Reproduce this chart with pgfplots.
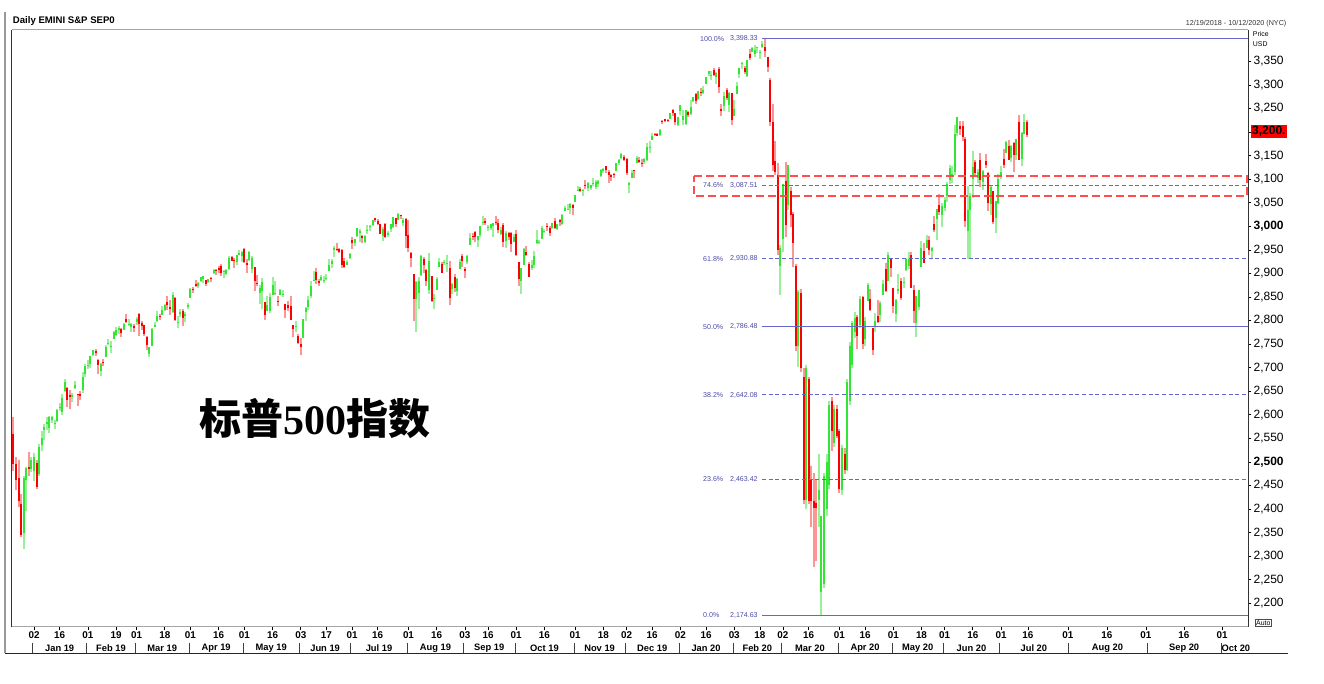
\documentclass[border=0pt]{standalone}
\usepackage{pgfplots}
\pgfplotsset{compat=1.18}
\usepackage{pgfplotstable}
\usepackage{fontspec}
\setmainfont{Liberation Sans}
\newfontfamily\cjk{Noto Sans CJK SC}
\newfontfamily\seriffont{Liberation Serif}

\definecolor{upbody}{HTML}{33E633}
\definecolor{upwick}{HTML}{99F099}
\definecolor{downbody}{HTML}{FF0000}
\definecolor{downwick}{HTML}{FF9494}
\definecolor{fibline}{HTML}{6666CC}
\definecolor{fibtext}{HTML}{4A4AA6}
\definecolor{boxred}{HTML}{FF4D4D}

% daily candles, i = trading day (0 = 02 Jan 2019)
\pgfplotstableread{
i o h l c
-8 2560 2595 2480 2495
-7 2495 2510 2440 2462
-6 2465 2505 2405 2418
-5 2410 2433 2340 2345
-4 2350 2470 2316 2465
-3 2462 2490 2395 2488
-2 2490 2522 2470 2484
-1 2484 2510 2478 2505
0 2480 2520 2460 2510
1 2498 2505 2443 2447
2 2475 2538 2470 2532
3 2535 2566 2524 2550
4 2568 2580 2547 2574
5 2580 2595 2568 2585
6 2573 2597 2562 2596
7 2588 2597 2582 2596
8 2580 2589 2570 2582
9 2586 2613 2585 2610
10 2614 2626 2608 2616
11 2606 2645 2600 2636
12 2651 2675 2648 2670
13 2657 2658 2617 2632
14 2643 2653 2612 2638
15 2638 2647 2627 2642
16 2657 2672 2655 2664
17 2644 2645 2618 2643
18 2644 2650 2631 2640
19 2653 2690 2647 2681
20 2686 2708 2680 2704
21 2703 2716 2697 2706
22 2707 2725 2700 2725
23 2727 2738 2725 2737
24 2735 2739 2724 2731
25 2716 2719 2687 2706
26 2692 2709 2682 2708
27 2712 2719 2703 2709
28 2722 2749 2722 2744
29 2751 2761 2748 2753
30 2744 2757 2731 2745
31 2760 2777 2760 2775
32 2770 2787 2767 2779
33 2780 2789 2771 2784
34 2782 2785 2765 2774
35 2780 2794 2780 2792
36 2804 2813 2794 2796
37 2792 2803 2789 2793
38 2787 2795 2776 2792
39 2788 2793 2775 2784
40 2798 2808 2791 2803
41 2814 2816 2767 2792
42 2795 2799 2781 2789
43 2790 2790 2768 2771
44 2766 2768 2738 2748
45 2730 2744 2722 2743
46 2747 2784 2746 2783
47 2787 2798 2786 2791
48 2799 2821 2798 2810
49 2810 2815 2801 2808
50 2812 2830 2812 2822
51 2822 2835 2821 2833
52 2840 2852 2823 2832
53 2828 2843 2811 2824
54 2818 2860 2817 2855
55 2847 2851 2800 2801
56 2796 2809 2785 2798
57 2813 2825 2807 2818
58 2820 2824 2788 2805
59 2809 2819 2798 2815
60 2828 2838 2825 2834
61 2848 2869 2848 2867
62 2868 2872 2858 2867
63 2877 2886 2872 2873
64 2873 2882 2870 2879
65 2884 2893 2882 2892
66 2888 2895 2880 2895
67 2886 2886 2873 2878
68 2881 2889 2879 2888
69 2891 2893 2881 2888
70 2900 2910 2898 2907
71 2908 2909 2896 2905
72 2912 2916 2901 2907
73 2916 2921 2895 2900
74 2904 2908 2891 2905
75 2898 2910 2896 2908
76 2910 2936 2908 2933
77 2934 2936 2926 2927
78 2928 2933 2912 2926
79 2925 2940 2917 2940
80 2940 2950 2939 2943
81 2937 2948 2925 2945
82 2952 2954 2923 2924
83 2922 2931 2900 2917
84 2929 2948 2927 2945
85 2909 2937 2900 2932
86 2913 2913 2862 2884
87 2880 2897 2874 2879
88 2859 2875 2836 2870
89 2863 2891 2825 2881
90 2840 2840 2801 2811
91 2820 2852 2820 2834
92 2820 2858 2816 2850
93 2855 2892 2855 2876
94 2858 2885 2854 2859
95 2841 2853 2831 2840
96 2855 2868 2854 2864
97 2856 2865 2851 2856
98 2836 2836 2805 2822
99 2832 2841 2821 2826
100 2831 2852 2801 2802
101 2790 2791 2766 2783
102 2786 2799 2776 2789
103 2767 2772 2750 2752
104 2751 2763 2728 2744
105 2763 2804 2762 2803
106 2818 2828 2800 2826
107 2828 2852 2822 2843
108 2852 2885 2848 2873
109 2886 2905 2884 2887
110 2903 2911 2878 2886
111 2883 2888 2874 2880
112 2886 2896 2884 2892
113 2886 2894 2879 2887
114 2889 2898 2886 2890
115 2906 2931 2905 2918
116 2920 2930 2912 2926
117 2949 2958 2935 2954
118 2952 2964 2947 2950
119 2951 2955 2944 2945
120 2949 2951 2912 2917
121 2926 2932 2911 2914
122 2919 2929 2918 2925
123 2933 2943 2930 2942
124 2971 2977 2952 2964
125 2965 2974 2959 2973
126 2979 2996 2978 2996
127 2985 2995 2967 2990
128 2980 2981 2964 2976
129 2966 2981 2964 2980
130 2990 3002 2984 2993
131 2999 3003 2991 3000
132 3003 3014 3001 3014
133 3017 3018 3010 3014
134 3012 3016 3003 3004
135 3006 3006 2984 2984
136 2980 2999 2969 2995
137 3005 3007 2976 2977
138 2981 2990 2977 2985
139 2994 3005 2988 3005
140 2999 3020 2997 3020
141 3017 3018 2999 3004
142 3013 3028 3013 3026
143 3024 3025 3015 3021
144 3007 3018 3000 3013
145 3016 3018 2953 2980
146 2981 3014 2946 2954
147 2944 2945 2914 2932
148 2898 2898 2800 2845
149 2845 2885 2776 2882
150 2859 2892 2825 2884
151 2897 2939 2895 2938
152 2930 2935 2900 2919
153 2907 2909 2873 2883
154 2865 2943 2856 2926
155 2894 2894 2840 2841
156 2846 2857 2825 2848
157 2864 2893 2864 2889
158 2913 2932 2913 2924
159 2920 2924 2900 2901
160 2922 2928 2917 2924
161 2923 2939 2904 2923
162 2912 2927 2834 2847
163 2866 2880 2856 2878
164 2893 2899 2860 2869
165 2862 2891 2853 2888
166 2910 2931 2910 2925
167 2937 2941 2914 2926
168 2909 2914 2891 2906
169 2925 2939 2921 2938
170 2960 2985 2960 2976
171 2980 2985 2972 2979
172 2988 2990 2967 2978
173 2971 2980 2957 2979
174 2981 3001 2977 3001
175 3010 3021 3003 3010
176 3012 3017 3003 3007
177 2997 3003 2991 2998
178 2996 3006 2993 3006
179 3001 3008 2978 3007
180 3010 3022 3003 3007
181 3008 3016 2985 2992
182 2984 2999 2982 2992
183 3002 3007 2957 2967
184 2969 2990 2953 2985
185 2985 2988 2970 2978
186 2986 2988 2945 2962
187 2967 2983 2967 2977
188 2984 2993 2938 2940
189 2925 2925 2874 2888
190 2885 2911 2856 2911
191 2919 2953 2918 2952
192 2945 2959 2936 2939
193 2920 2925 2892 2893
194 2912 2929 2907 2919
195 2918 2948 2911 2938
196 2964 2993 2963 2970
197 2966 2972 2963 2966
198 2974 3000 2974 2996
199 2990 2994 2985 2990
200 3001 3008 2991 2998
201 2997 3001 2980 2986
202 2997 3008 2995 3007
203 3011 3017 2995 2996
204 2994 3005 2992 3005
205 3014 3016 3000 3010
206 3004 3027 3002 3023
207 3032 3044 3032 3039
208 3036 3047 3034 3037
209 3039 3050 3026 3047
210 3046 3047 3023 3038
211 3051 3067 3051 3067
212 3078 3085 3074 3078
213 3080 3084 3072 3075
214 3075 3079 3065 3077
215 3088 3098 3080 3085
216 3082 3094 3075 3093
217 3081 3088 3077 3087
218 3090 3103 3085 3092
219 3084 3098 3079 3094
220 3090 3098 3083 3097
221 3107 3121 3105 3120
222 3118 3124 3113 3122
223 3127 3128 3113 3120
224 3115 3119 3092 3108
225 3108 3111 3097 3104
226 3112 3113 3102 3110
227 3118 3134 3118 3134
228 3135 3142 3131 3141
229 3145 3155 3143 3154
230 3148 3151 3139 3141
231 3143 3145 3110 3114
232 3087 3095 3070 3093
233 3103 3120 3103 3113
234 3119 3120 3102 3117
235 3134 3150 3134 3146
236 3141 3148 3135 3136
237 3135 3143 3125 3133
238 3136 3144 3133 3142
239 3141 3176 3139 3169
240 3166 3182 3156 3169
241 3183 3198 3183 3191
242 3195 3198 3191 3193
243 3196 3198 3191 3191
244 3193 3206 3192 3205
245 3223 3226 3217 3221
246 3227 3228 3222 3224
247 3225 3227 3222 3223
248 3227 3240 3227 3240
249 3247 3248 3235 3240
250 3240 3241 3216 3221
251 3216 3232 3213 3231
252 3245 3258 3236 3258
253 3226 3247 3215 3235
254 3218 3247 3215 3246
255 3242 3245 3233 3237
256 3238 3268 3236 3253
257 3267 3275 3264 3275
258 3281 3283 3260 3265
259 3271 3288 3269 3288
260 3285 3294 3277 3283
261 3282 3298 3281 3289
262 3302 3317 3302 3317
263 3324 3330 3318 3330
264 3321 3329 3311 3321
265 3331 3337 3320 3322
266 3316 3327 3302 3326
267 3334 3338 3284 3295
268 3248 3259 3235 3244
269 3255 3285 3245 3276
270 3290 3293 3268 3273
271 3257 3285 3243 3284
272 3282 3282 3215 3226
273 3235 3268 3235 3249
274 3280 3306 3280 3298
275 3324 3337 3314 3335
276 3345 3348 3334 3346
277 3335 3341 3323 3328
278 3319 3352 3317 3352
279 3365 3376 3352 3358
280 3370 3381 3370 3379
281 3365 3385 3360 3374
282 3378 3381 3367 3380
283 3370 3375 3355 3370
284 3380 3393 3378 3386
285 3380 3398 3360 3373
286 3360 3360 3328 3338
287 3311 3315 3212 3222
288 3222 3259 3118 3130
289 3139 3182 3108 3116
290 3110 3135 2940 2950
291 2916 2960 2855 2954
292 2974 3090 2946 3090
293 3096 3136 2977 3003
294 3046 3130 3034 3130
295 3075 3084 2999 3024
296 3027 3030 2913 2965
297 2915 2920 2735 2745
298 2745 2865 2702 2860
299 2858 2868 2690 2700
300 2680 2700 2410 2420
301 2420 2705 2400 2700
302 2675 2680 2410 2418
303 2462 2492 2362 2418
304 2418 2476 2276 2402
305 2412 2463 2289 2402
306 2420 2516 2362 2440
307 2224 2386 2175 2386
308 2240 2476 2232 2470
309 2400 2516 2386 2500
310 2450 2630 2443 2621
311 2630 2638 2524 2565
312 2540 2620 2532 2613
313 2613 2620 2550 2556
314 2565 2570 2435 2443
315 2440 2535 2430 2530
316 2516 2530 2475 2483
317 2483 2675 2480 2670
318 2630 2755 2621 2745
319 2705 2800 2700 2795
320 2776 2819 2764 2805
321 2808 2812 2740 2767
322 2790 2852 2785 2846
323 2849 2852 2740 2750
324 2760 2807 2745 2800
325 2842 2880 2842 2875
326 2846 2868 2820 2823
327 2784 2785 2728 2737
328 2788 2816 2775 2799
329 2810 2844 2794 2798
330 2812 2842 2798 2837
331 2855 2887 2855 2878
332 2909 2922 2860 2863
333 2885 2945 2885 2940
334 2930 2931 2892 2912
335 2870 2870 2817 2831
336 2815 2845 2798 2843
337 2862 2899 2856 2868
338 2883 2891 2844 2848
339 2879 2892 2870 2881
340 2908 2932 2906 2930
341 2915 2945 2910 2930
342 2939 2945 2869 2870
343 2865 2875 2794 2820
344 2794 2852 2766 2852
345 2829 2865 2822 2864
346 2913 2969 2913 2954
347 2948 2964 2922 2923
348 2953 2981 2953 2972
349 2970 2979 2939 2949
350 2948 2957 2933 2955
351 3005 3021 2988 2992
352 3015 3036 2970 3036
353 3046 3068 3023 3030
354 3025 3050 2999 3044
355 3038 3063 3032 3056
356 3064 3095 3052 3090
357 3098 3131 3090 3123
358 3112 3129 3091 3112
359 3115 3215 3110 3195
360 3199 3233 3192 3232
361 3213 3223 3194 3207
362 3213 3223 3182 3190
363 3185 3190 2999 3011
364 2990 3085 2930 3035
365 3035 3070 2930 3065
366 3100 3160 3060 3125
367 3136 3141 3109 3113
368 3102 3121 3091 3115
369 3141 3155 3084 3098
370 3095 3120 3078 3118
371 3138 3154 3123 3131
372 3114 3115 3033 3050
373 3047 3086 3024 3084
374 3074 3074 3004 3009
375 3018 3054 2985 3053
376 3050 3111 3047 3100
377 3105 3128 3101 3116
378 3143 3165 3124 3130
379 3155 3182 3155 3180
380 3170 3184 3142 3140
381 3145 3172 3137 3170
382 3176 3179 3115 3152
383 3152 3186 3141 3185
384 3222 3236 3150 3141
385 3142 3200 3127 3198
386 3197 3239 3195 3222
387 3222 3226 3189 3194
}\es

\begin{document}
\begin{tikzpicture}
% page = 1324 x 684 px, 1 px = 0.75 pt
\path[use as bounding box] (0,0) rectangle (993pt,513pt);

\begin{axis}[
  at={(9pt,42.75pt)}, anchor=south west,
  scale only axis, width=927pt, height=447.75pt,
  xmin=-8.58, xmax=473.3,
  ymin=2149.7, ymax=3416.7,
  clip=false,
  axis line style={draw=none},
  tick align=outside,
  major tick length=2.5pt,
  tick style={black, line width=0.5pt},
  xtick pos=bottom, ytick pos=right,
  yticklabel pos=right,
  xtick={0,10,21,32,40,51,61,72,82,93,104,114,124,134,146,157,168,177,188,199,211,222,231,241,252,262,273,283,292,302,314,324,335,346,355,366,377,387.5,403.1,418.3,433.5,448.3,463.2},
  xticklabels={02,16,01,19,01,18,01,16,01,16,03,17,01,16,01,16,03,16,01,16,01,18,02,16,02,16,03,18,02,16,01,16,01,18,01,16,01,16,01,16,01,16,01},
  xticklabel style={font=\bfseries\fontsize{7.4}{8}\selectfont, inner sep=1pt},
  ytick={2200,2250,...,3350},
  yticklabels={{2,200},{2,250},{2,300},{2,350},{2,400},{2,450},{\bfseries 2,500},{2,550},{2,600},{2,650},{2,700},{2,750},{2,800},{2,850},{2,900},{2,950},{\bfseries 3,000},{3,050},{3,100},{3,150},{3,200},{3,250},{3,300},{3,350}},
  yticklabel style={font=\fontsize{9}{10}\selectfont, inner sep=1.5pt},
]

% wicks
\addplot[draw=none, mark=none, forget plot,
  restrict expr to domain={\thisrow{c}-\thisrow{o}}{0:5000},
  error bars/.cd, y dir=minus, y explicit, error mark=none,
  error bar style={line width=1.5pt, draw=upwick}]
  table[x=i, y=h, y error minus expr={\thisrow{h}-\thisrow{l}}] {\es};
\addplot[draw=none, mark=none, forget plot,
  restrict expr to domain={\thisrow{c}-\thisrow{o}}{-5000:-0.001},
  error bars/.cd, y dir=minus, y explicit, error mark=none,
  error bar style={line width=1.5pt, draw=downwick}]
  table[x=i, y=h, y error minus expr={\thisrow{h}-\thisrow{l}}] {\es};
% bodies
\addplot[draw=none, mark=none, forget plot,
  restrict expr to domain={\thisrow{c}-\thisrow{o}}{0:5000},
  error bars/.cd, y dir=minus, y explicit, error mark=none,
  error bar style={line width=1.5pt, draw=upbody}]
  table[x=i, y=c, y error minus expr={max(\thisrow{c}-\thisrow{o},1.5)}] {\es};
\addplot[draw=none, mark=none, forget plot,
  restrict expr to domain={\thisrow{c}-\thisrow{o}}{-5000:-0.001},
  error bars/.cd, y dir=minus, y explicit, error mark=none,
  error bar style={line width=1.5pt, draw=downbody}]
  table[x=i, y=o, y error minus expr={\thisrow{o}-\thisrow{c}}] {\es};

% fibonacci retracement levels
\addplot[fibline, line width=0.75pt] coordinates {(283.8,3398.33) (473.3,3398.33)};
\addplot[fibline, line width=0.75pt, dash pattern=on 3pt off 2pt] coordinates {(283.8,3087.51) (473.3,3087.51)};
\addplot[fibline, line width=0.75pt, dash pattern=on 3pt off 2pt] coordinates {(283.8,2930.88) (473.3,2930.88)};
\addplot[fibline, line width=0.75pt] coordinates {(283.8,2786.48) (473.3,2786.48)};
\addplot[fibline, line width=0.75pt, dash pattern=on 3pt off 2pt] coordinates {(283.8,2642.08) (473.3,2642.08)};
\addplot[fibline, line width=0.75pt, dash pattern=on 3pt off 2pt] coordinates {(283.8,2463.42) (473.3,2463.42)};
\addplot[fibline, line width=0.75pt] coordinates {(283.8,2174.63) (473.3,2174.63)};

\begin{scope}[every node/.style={text=fibtext, font=\fontsize{5.3}{6}\selectfont, inner sep=0pt, anchor=west}]
\node at (axis cs:259.6,3398.33) {100.0\%};
\node at (axis cs:271.3,3398.33) {3,398.33};
\node at (axis cs:260.8,3087.51) {74.6\%};
\node at (axis cs:271.3,3087.51) {3,087.51};
\node at (axis cs:260.8,2930.88) {61.8\%};
\node at (axis cs:271.3,2930.88) {2,930.88};
\node at (axis cs:260.8,2786.48) {50.0\%};
\node at (axis cs:271.3,2786.48) {2,786.48};
\node at (axis cs:260.8,2642.08) {38.2\%};
\node at (axis cs:271.3,2642.08) {2,642.08};
\node at (axis cs:260.8,2463.42) {23.6\%};
\node at (axis cs:271.3,2463.42) {2,463.42};
\node at (axis cs:260.8,2174.63) {0.0\%};
\node at (axis cs:271.3,2174.63) {2,174.63};
\end{scope}

% highlighted zone
\addplot[boxred, line width=1.5pt, dash pattern=on 6pt off 3pt] coordinates {(257.3,3106.8) (472.9,3106.8) (472.9,3064.4) (257.3,3064.4) (257.3,3106.8)};

% last price
\node[fill=red, text=black, font=\bfseries\fontsize{9}{10}\selectfont, inner sep=1.2pt, anchor=west] at (axis cs:474.2,3201) {3,200.};

% month row
\pgfplotsinvokeforeach{-0.5,20.5,39.5,60.5,81.5,103.5,123.5,145.5,167.5,187.5,210.5,230.5,251.5,272.5,291.5,313.5,334.5,354.5,376.5,403.1,433.9,462.8}{
  \draw[black!75, line width=0.6pt] ([yshift=-11.8pt]axis cs:#1,2149.7) -- ([yshift=-19.7pt]axis cs:#1,2149.7);
}
\begin{scope}[every node/.style={font=\bfseries\fontsize{7}{8}\selectfont, inner sep=0pt}]
\node at ([yshift=-16pt]axis cs:10,2149.7) {Jan 19};
\node at ([yshift=-16pt]axis cs:30,2149.7) {Feb 19};
\node at ([yshift=-16pt]axis cs:50,2149.7) {Mar 19};
\node at ([yshift=-16pt]axis cs:71,2149.7) {Apr 19};
\node at ([yshift=-16pt]axis cs:92.5,2149.7) {May 19};
\node at ([yshift=-16pt]axis cs:113.5,2149.7) {Jun 19};
\node at ([yshift=-16pt]axis cs:134.5,2149.7) {Jul 19};
\node at ([yshift=-16pt]axis cs:156.5,2149.7) {Aug 19};
\node at ([yshift=-16pt]axis cs:177.5,2149.7) {Sep 19};
\node at ([yshift=-16pt]axis cs:199,2149.7) {Oct 19};
\node at ([yshift=-16pt]axis cs:220.5,2149.7) {Nov 19};
\node at ([yshift=-16pt]axis cs:241,2149.7) {Dec 19};
\node at ([yshift=-16pt]axis cs:262,2149.7) {Jan 20};
\node at ([yshift=-16pt]axis cs:282,2149.7) {Feb 20};
\node at ([yshift=-16pt]axis cs:302.5,2149.7) {Mar 20};
\node at ([yshift=-16pt]axis cs:324,2149.7) {Apr 20};
\node at ([yshift=-16pt]axis cs:344.5,2149.7) {May 20};
\node at ([yshift=-16pt]axis cs:365.5,2149.7) {Jun 20};
\node at ([yshift=-16pt]axis cs:389.8,2149.7) {Jul 20};
\node at ([yshift=-16pt]axis cs:418.5,2149.7) {Aug 20};
\node at ([yshift=-16pt]axis cs:448.4,2149.7) {Sep 20};
\node[anchor=west] at ([yshift=-16pt]axis cs:462.9,2149.7) {Oct 20};
\end{scope}

% chart annotation
\node[font=\fontsize{31.5}{34}\selectfont\bfseries] at (axis cs:109.5,2593) {{\cjk 标普}{\seriffont\bfseries 500}{\cjk 指数}};
\end{axis}

% frame
\draw[black!35, line width=0.75pt] (9pt,490.5pt) -- (936pt,490.5pt);
\draw[black!35, line width=0.75pt] (9pt,42.75pt) -- (936pt,42.75pt);
\draw[black!80, line width=0.9pt] (8.8pt,490.5pt) -- (8.8pt,42.75pt);
\draw[black!80, line width=0.75pt] (936pt,490.5pt) -- (936pt,42.75pt);
\draw[black!40, line width=1.3pt] (3.75pt,504pt) -- (3.75pt,23pt);
\draw[black!85, line width=1.2pt] (3.75pt,23pt) -- (966pt,23pt);

% header texts
\node[anchor=base west, inner sep=0pt, font=\bfseries\fontsize{7.2}{8}\selectfont] at (9.5pt,495pt) {Daily EMINI S\&P SEP0};
\node[anchor=base east, inner sep=0pt, text=black!80, font=\fontsize{5.4}{6}\selectfont] at (965pt,494pt) {12/19/2018 - 10/12/2020 (NYC)};
\node[anchor=west, inner sep=0pt, font=\fontsize{5.2}{6}\selectfont] at (939.5pt,487.5pt) {Price};
\node[anchor=west, inner sep=0pt, font=\fontsize{5.2}{6}\selectfont] at (939.5pt,480pt) {USD};
\node[draw=black!70, line width=0.4pt, inner sep=0.6pt, font=\fontsize{5.2}{6}\selectfont] at (947.5pt,46pt) {Auto};
\end{tikzpicture}
\end{document}
